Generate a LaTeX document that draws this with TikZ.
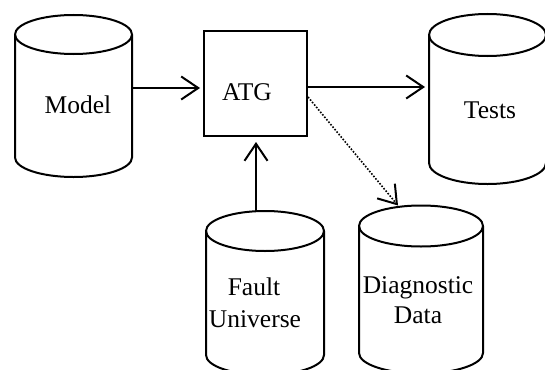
\documentclass[tikz,border=0pt]{standalone}
\usepackage{fontspec}
\setmainfont{Liberation Serif}
\usetikzlibrary{arrows.meta,calc}
% database drum: centre x, x radius, top ellipse y, bottom ellipse y, y radius
\newcommand\dbcyl[5]{%
  \draw[cylline] (#1-#2,-#3) -- (#1-#2,-#4)
    arc[start angle=180,end angle=360,x radius=#2pt,y radius=#5pt] -- (#1+#2,-#3);
  \draw[cylline] (#1,-#3) ellipse[x radius=#2pt,y radius=#5pt];
}
\tikzset{
  cylline/.style={line width=2pt,line join=round},
  lbl/.style={font=\fontsize{25.5}{30}\selectfont,inner sep=0pt,anchor=base},
  blockbox/.style={draw,line width=2pt,minimum width=103pt,minimum height=105pt,inner sep=0pt},
  flow/.style={line width=2pt,-{Straight Barb[length=17pt,width=23pt,line width=2pt]}},
  dotflow/.style={line width=1.6pt,dash pattern=on 1.6pt off 1.6pt,
    -{Straight Barb[length=17pt,width=23pt,line width=2pt]}}
}
\begin{document}
\begin{tikzpicture}[x=1pt,y=1pt]
\useasboundingbox (0,0) rectangle (545,-369);

% drums
\dbcyl{73.5}{58.5}{34.5}{157.5}{19.5}
\dbcyl{487.5}{58.5}{35}{163}{21}
\dbcyl{265}{59}{231}{355}{20}
\dbcyl{421}{62}{226}{353}{20.5}

% generator block
\node[blockbox] (atg) at (255.5,-83.5) {};
\node[lbl] (atgtxt) at (247,-100) {ATG};

% drum labels
\node[lbl] (modeltxt) at (78,-113) {Model};
\node[lbl] (teststxt) at (490,-118) {Tests};
\node[lbl] (faulttxt) at (254,-295) {Fault};
\node[lbl] (univtxt) at (255,-327) {Universe};
\node[lbl] (diagtxt) at (418,-293) {Diagnostic};
\node[lbl] (datatxt) at (418,-323) {Data};

% connector ends on the drums
\coordinate (modelE) at (133,-88);
\coordinate (testsW) at (428,-87);
\coordinate (faultN) at (256,-210.5);
\coordinate (diagN) at (398,-205.5);
\coordinate (dstart) at ($(atg.east)+(0,-13.5)$);

% connectors
\draw[flow,shorten >=3pt] (modelE) -- (modelE -| atg.west);
\draw[flow,shorten >=3pt] (atg.east |- testsW) -- (testsW);
\draw[flow,shorten >=5pt] (faultN) -- (atg.south -| faultN);
\draw[dotflow] (dstart) -- (diagN);
\end{tikzpicture}
\end{document}
